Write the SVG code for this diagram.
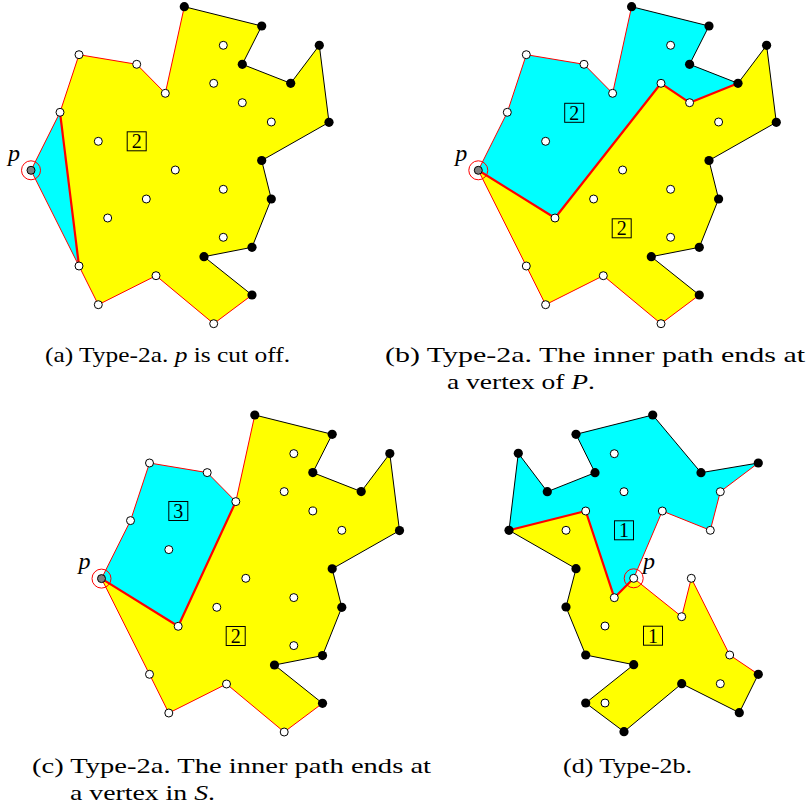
<svg xmlns="http://www.w3.org/2000/svg" xmlns:xlink="http://www.w3.org/1999/xlink" width="809" height="809" viewBox="0 0 809 809">
<style>
.y{fill:#ffff00;stroke:none}
.c{fill:#00ffff;stroke:none}
.er{fill:none;stroke:#ff0000;stroke-width:1;stroke-linejoin:round}
.eb{fill:none;stroke:#000;stroke-width:1;stroke-linejoin:round}
.ip{fill:none;stroke:#ff0000;stroke-width:2.2;stroke-linejoin:round}
.w{fill:#fff;stroke:#000;stroke-width:1}
.b{fill:#000;stroke:none}
.ring{fill:none;stroke:#ff0000;stroke-width:1}
.pg{fill:#808080;stroke:#000;stroke-width:1}
.box{fill:none;stroke:#000;stroke-width:1}
text{font-family:'Liberation Serif','Times New Roman',Tinos,Times,serif}
.num{font-size:20px;text-anchor:middle;fill:#000}
.pl{font-style:italic;font-size:24px;fill:#000}
.cap{font-size:22px;fill:#000}
.it{font-style:italic}
</style>
<defs>
<g id="edgesBase">
<polyline class="eb" points="184.3,6.7 261.7,26 242.3,64.3 290.7,83.3 319.3,45.3 329,122.3 261.7,160.5 271.3,199 252,247.3 204,256.7 252,295"/>
<polyline class="er" points="252,295 213.7,323.7 156,275.7 98.3,304.7 79,266 31,170.3 60,112.3 79,54.7 136.7,64.3 165.3,93.3 184.3,6.7"/>
</g>
<g id="dotsBase">
<circle class="ring" cx="31" cy="170.3" r="9.5"/>
<circle class="pg" cx="31" cy="170.3" r="4"/>
<g class="w">
<circle cx="60" cy="112.3" r="4"/><circle cx="79" cy="54.7" r="4"/><circle cx="136.7" cy="64.3" r="4"/><circle cx="165.3" cy="93.3" r="4"/>
<circle cx="213.7" cy="323.7" r="4"/><circle cx="156" cy="275.7" r="4"/><circle cx="98.3" cy="304.7" r="4"/><circle cx="79" cy="266" r="4"/>
<circle cx="223.3" cy="45.3" r="4"/><circle cx="213.7" cy="83.3" r="4"/><circle cx="242.3" cy="102.7" r="4"/><circle cx="271.3" cy="122" r="4"/>
<circle cx="98.3" cy="141.3" r="4"/><circle cx="175.3" cy="170" r="4"/><circle cx="223.3" cy="189.3" r="4"/><circle cx="146.3" cy="199" r="4"/>
<circle cx="107.7" cy="218" r="4"/><circle cx="223.3" cy="237.3" r="4"/>
</g>
<g class="b">
<circle cx="184.3" cy="6.7" r="4.6"/><circle cx="261.7" cy="26" r="4.6"/><circle cx="242.3" cy="64.3" r="4.6"/><circle cx="290.7" cy="83.3" r="4.6"/>
<circle cx="319.3" cy="45.3" r="4.6"/><circle cx="329" cy="122.3" r="4.6"/><circle cx="261.7" cy="160.5" r="4.6"/><circle cx="271.3" cy="199" r="4.6"/>
<circle cx="252" cy="247.3" r="4.6"/><circle cx="204" cy="256.7" r="4.6"/><circle cx="252" cy="295" r="4.6"/>
</g>
<text class="pl" x="8" y="161">p</text>
</g>
</defs>

<g id="panel-a">
<polygon class="y" points="60,112.3 79,54.7 136.7,64.3 165.3,93.3 184.3,6.7 261.7,26 242.3,64.3 290.7,83.3 319.3,45.3 329,122.3 261.7,160.5 271.3,199 252,247.3 204,256.7 252,295 213.7,323.7 156,275.7 98.3,304.7 79,266"/>
<polygon class="c" points="31,170.3 60,112.3 79,266"/>
<g id="connectors-a">
<use xlink:href="#edgesBase"/>
<line class="ip" x1="60" y1="112.3" x2="79" y2="266"/>
</g>
<use xlink:href="#dotsBase"/>
<g id="label-a"><rect class="box" x="127.2" y="131.8" width="19" height="19"/><text class="num" x="136.7" y="148.3">2</text></g>
</g>

<g id="panel-b" transform="translate(447.3,0)">
<polygon class="c" points="31,170.3 60,112.3 79,54.7 136.7,64.3 165.3,93.3 184.3,6.7 261.7,26 242.3,64.3 290.7,83.3 242.3,102.7 213.7,83.3 107.7,218"/>
<polygon class="y" points="31,170.3 107.7,218 213.7,83.3 242.3,102.7 290.7,83.3 319.3,45.3 329,122.3 261.7,160.5 271.3,199 252,247.3 204,256.7 252,295 213.7,323.7 156,275.7 98.3,304.7 79,266"/>
<g id="connectors-b">
<use xlink:href="#edgesBase"/>
<polyline class="ip" points="31,170.3 107.7,218 213.7,83.3 242.3,102.7 290.7,83.3"/>
</g>
<use xlink:href="#dotsBase"/>
<g id="label-b1"><rect class="box" x="117.4" y="103.3" width="19" height="19"/><text class="num" x="126.9" y="119.8">2</text></g>
<g id="label-b2"><rect class="box" x="164.9" y="218.8" width="19" height="19"/><text class="num" x="174.4" y="235.3">2</text></g>
</g>

<g id="panel-c" transform="translate(70.5,408.3)">
<polygon class="c" points="31,170.3 60,112.3 79,54.7 136.7,64.3 165.3,93.3 107.7,218"/>
<polygon class="y" points="107.7,218 165.3,93.3 184.3,6.7 261.7,26 242.3,64.3 290.7,83.3 319.3,45.3 329,122.3 261.7,160.5 271.3,199 252,247.3 204,256.7 252,295 213.7,323.7 156,275.7 98.3,304.7 79,266 31,170.3"/>
<g id="connectors-c">
<use xlink:href="#edgesBase"/>
<polyline class="ip" points="31,170.3 107.7,218 165.3,93.3"/>
</g>
<use xlink:href="#dotsBase"/>
<g id="label-c1"><rect class="box" x="98.3" y="93.2" width="19" height="19"/><text class="num" x="107.8" y="109.7">3</text></g>
<g id="label-c2"><rect class="box" x="155.7" y="218.2" width="19" height="19"/><text class="num" x="165.2" y="234.7">2</text></g>
</g>

<g id="panel-d">
<polygon class="c" points="509,530.3 518.3,453.3 547.3,491.7 595,472.7 576,434.3 652.7,415 701,472.7 758.3,463 720.3,491.7 710.3,530.3 662.3,511 633.7,578.3 614.3,597.7 585.7,511"/>
<polygon class="y" points="509,530.3 585.7,511 614.3,597.7 633.7,578.3 681.7,616.7 691.3,578.3 729.7,655 758.3,674.3 739.3,712.7 681.7,683.7 624,731.7 585.7,703 633.7,664.7 585.7,655 566,607 576,568.7"/>
<g id="connectors-d">
<polyline class="eb" points="758.3,674.3 739.3,712.7 681.7,683.7 624,731.7 585.7,703 633.7,664.7 585.7,655 566,607 576,568.7 509,530.3 518.3,453.3 547.3,491.7 595,472.7 576,434.3 652.7,415 701,472.7 758.3,463"/>
<polyline class="er" points="758.3,463 720.3,491.7 710.3,530.3 662.3,511 633.7,578.3 681.7,616.7 691.3,578.3 729.7,655 758.3,674.3"/>
<polyline class="ip" points="509,530.3 585.7,511 614.3,597.7 633.7,578.3"/>
</g>
<g class="b">
<circle cx="509" cy="530.3" r="4.6"/><circle cx="518.3" cy="453.3" r="4.6"/><circle cx="547.3" cy="491.7" r="4.6"/><circle cx="595" cy="472.7" r="4.6"/>
<circle cx="576" cy="434.3" r="4.6"/><circle cx="652.7" cy="415" r="4.6"/><circle cx="701" cy="472.7" r="4.6"/><circle cx="758.3" cy="463" r="4.6"/>
<circle cx="758.3" cy="674.3" r="4.6"/><circle cx="739.3" cy="712.7" r="4.6"/><circle cx="681.7" cy="683.7" r="4.6"/><circle cx="624" cy="731.7" r="4.6"/>
<circle cx="585.7" cy="703" r="4.6"/><circle cx="633.7" cy="664.7" r="4.6"/><circle cx="585.7" cy="655" r="4.6"/><circle cx="566" cy="607" r="4.6"/>
<circle cx="576" cy="568.7" r="4.6"/>
</g>
<circle class="ring" cx="633.7" cy="578.3" r="9.5"/>
<g class="w">
<circle cx="720.3" cy="491.7" r="4"/><circle cx="710.3" cy="530.3" r="4"/><circle cx="662.3" cy="511" r="4"/><circle cx="633.7" cy="578.3" r="4"/>
<circle cx="681.7" cy="616.7" r="4"/><circle cx="691.3" cy="578.3" r="4"/><circle cx="729.7" cy="655" r="4"/>
<circle cx="585.7" cy="511" r="4"/><circle cx="614.3" cy="597.7" r="4"/>
<circle cx="614.3" cy="453.7" r="4"/><circle cx="624" cy="491.7" r="4"/><circle cx="566" cy="530.3" r="4"/>
<circle cx="605" cy="626" r="4"/><circle cx="720.3" cy="683.7" r="4"/><circle cx="605" cy="703" r="4"/>
</g>
<text class="pl" x="643" y="569">p</text>
<g id="label-d1"><rect class="box" x="614.5" y="520.8" width="19" height="19"/><text class="num" x="624" y="537.3">1</text></g>
<g id="label-d2"><rect class="box" x="643.5" y="626.2" width="19" height="19"/><text class="num" x="653" y="642.7">1</text></g>
</g>

<g id="captions">
<text class="cap" x="45" y="362" textLength="245" lengthAdjust="spacingAndGlyphs">(a) Type-2a. <tspan class="it">p</tspan> is cut off.</text>
<text class="cap" x="385" y="362" textLength="420" lengthAdjust="spacingAndGlyphs">(b) Type-2a. The inner path ends at</text>
<text class="cap" x="447" y="389" textLength="148" lengthAdjust="spacingAndGlyphs">a vertex of <tspan class="it">P</tspan>.</text>
<text class="cap" x="32" y="773" textLength="399" lengthAdjust="spacingAndGlyphs">(c) Type-2a. The inner path ends at</text>
<text class="cap" x="70" y="800" textLength="145" lengthAdjust="spacingAndGlyphs">a vertex in <tspan class="it">S</tspan>.</text>
<text class="cap" x="563" y="773" textLength="129" lengthAdjust="spacingAndGlyphs">(d) Type-2b.</text>
</g>
</svg>
